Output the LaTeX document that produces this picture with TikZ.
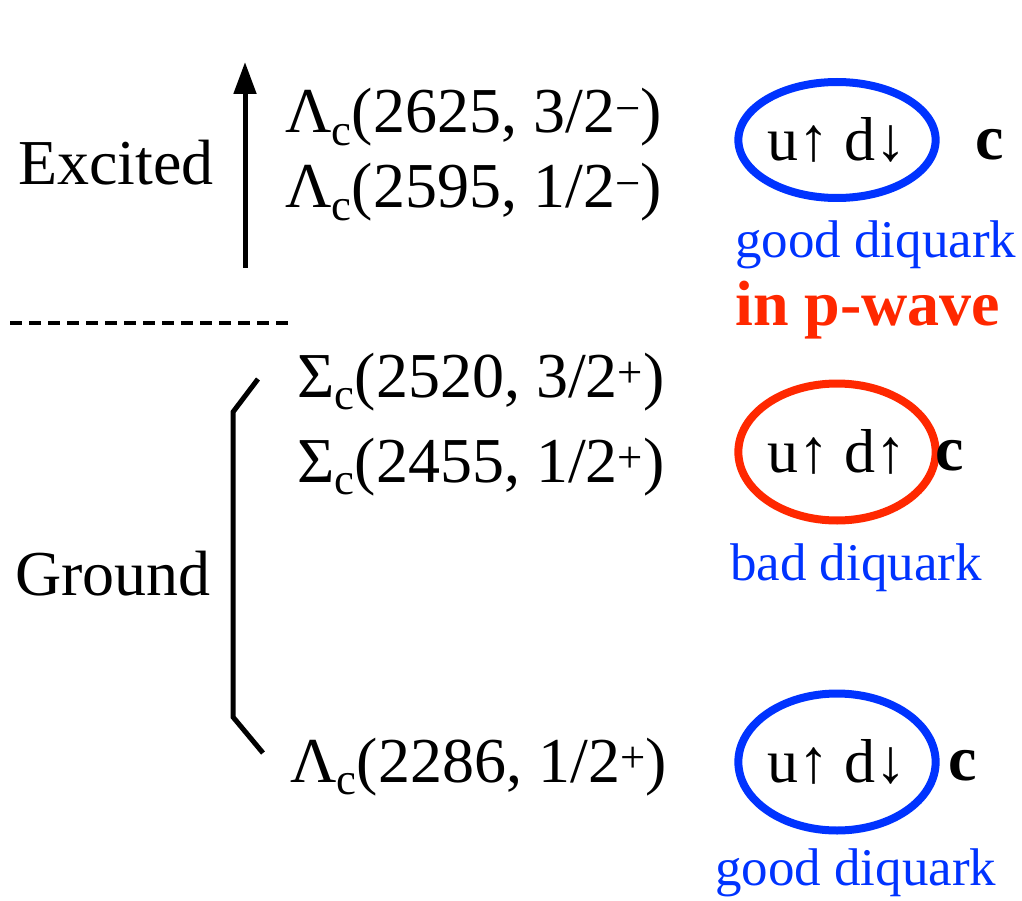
\documentclass[tikz,border=0pt]{standalone}
\usepackage{fontspec}
\setmainfont{Liberation Serif}
\usetikzlibrary{arrows.meta,shapes.geometric}
\definecolor{qblue}{RGB}{0,51,255}
\definecolor{qred}{RGB}{255,40,0}
\newcommand{\lvl}[4]{#1\textsubscript{c}(#2, #3\textsuperscript{#4})}
\begin{document}
\begin{tikzpicture}[x=1pt,y=-1pt,
  big/.style={font=\fontsize{64}{70}\selectfont, inner sep=0pt, anchor=base west},
  note/.style={font=\fontsize{53}{60}\selectfont, inner sep=0pt, anchor=base west, text=qblue},
  quark/.style={font=\fontsize{64}{70}\selectfont\bfseries, inner sep=0pt, anchor=base west},
  diq/.style={ellipse, line width=8pt, inner sep=0pt, font=\fontsize{62}{70}\selectfont},
  stroke/.style={line width=5pt}]
\useasboundingbox (0,0) rectangle (1022,901);

% excited states
\node[big] (exc) at (18,185) {Excited};
\coordinate (upfrom) at (245,268);
\coordinate (upto) at (245,62);
\draw[stroke, -{Triangle[width=22pt,length=32pt]}] (upfrom) -- (upto);
\node[big] (l2625) at (285,133) {\lvl{Λ}{2625}{3/2}{−}};
\node[big] (l2595) at (285,208) {\lvl{Λ}{2595}{1/2}{−}};

% separator
\coordinate (sepL) at (10,323);
\coordinate (sepR) at (290,323);
\draw[line width=4pt, dash pattern=on 12pt off 7pt] (sepL) -- (sepR);

% ground states
\node[big] (s2520) at (297,397) {\lvl{Σ}{2520}{3/2}{+}};
\node[big] (s2455) at (297,482) {\lvl{Σ}{2455}{1/2}{+}};
\node[big] (gnd) at (15,595) {Ground};
\node[big] (l2286) at (290,782) {\lvl{Λ}{2286}{1/2}{+}};
\coordinate (b1) at (258,379);
\coordinate (b2) at (233,412);
\coordinate (b3) at (233,717);
\coordinate (b4) at (263,753);
\draw[stroke] (b1) -- (b2) -- (b3) -- (b4);

% diquark pictures
\node[diq, draw=qblue, minimum width=177pt, minimum height=116pt] (dq1) at (837,140) {u↑ d↓};
\node[quark] (c1) at (975,160) {c};
\node[note] (good1) at (735,258) {good diquark};
\node[big, font=\fontsize{64}{70}\selectfont\bfseries, text=qred] (pw) at (735,325) {in p-wave};

\node[diq, draw=qred, minimum width=187pt, minimum height=137pt] (dq2) at (837,452) {u↑ d↑};
\node[quark] (c2) at (935,470) {c};
\node[note] (bad) at (730,580) {bad diquark};

\node[diq, draw=qblue, minimum width=177pt, minimum height=137pt] (dq3) at (837,762) {u↑ d↓};
\node[quark] (c3) at (948,780) {c};
\node[note] (good2) at (715,885) {good diquark};
\end{tikzpicture}
\end{document}
